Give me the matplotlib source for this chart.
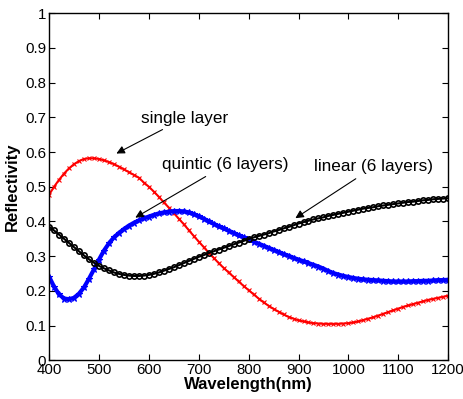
import matplotlib.pyplot as plt
import numpy as np

plt.rcParams['font.family'] = ['Liberation Sans', 'DejaVu Sans']

# wavelength grid (nm), readings every 10 nm
wavelength = list(range(400, 1201, 10))

single_layer = [
    0.477, 0.500, 0.520, 0.538, 0.553, 0.565, 0.574, 0.580, 0.582, 0.582,
    0.580, 0.576, 0.571, 0.565, 0.558, 0.550, 0.542, 0.534, 0.526, 0.512,
    0.500, 0.486, 0.471, 0.455, 0.440, 0.424, 0.408, 0.392, 0.375, 0.358,
    0.342, 0.326, 0.310, 0.295, 0.280, 0.266, 0.253, 0.240, 0.227, 0.214,
    0.202, 0.190, 0.178, 0.167, 0.157, 0.148, 0.140, 0.132, 0.125, 0.120,
    0.115, 0.112, 0.109, 0.107, 0.106, 0.105, 0.105, 0.105, 0.105, 0.106,
    0.107, 0.109, 0.112, 0.116, 0.120, 0.124, 0.129, 0.134, 0.139, 0.144,
    0.149, 0.154, 0.158, 0.162, 0.166, 0.170, 0.174, 0.177, 0.180, 0.183,
    0.186,
]

quintic = [
    0.241, 0.212, 0.190, 0.178, 0.176, 0.180, 0.192, 0.210, 0.235, 0.262,
    0.290, 0.316, 0.337, 0.354, 0.367, 0.378, 0.388, 0.396, 0.403, 0.409,
    0.414, 0.419, 0.423, 0.426, 0.428, 0.430, 0.430, 0.429, 0.426, 0.421,
    0.415, 0.408, 0.400, 0.393, 0.386, 0.380, 0.373, 0.367, 0.360, 0.354,
    0.348, 0.342, 0.336, 0.330, 0.324, 0.318, 0.312, 0.306, 0.301, 0.295,
    0.290, 0.285, 0.280, 0.275, 0.270, 0.264, 0.257, 0.251, 0.247, 0.243,
    0.240, 0.237, 0.235, 0.233, 0.232, 0.231, 0.230, 0.229, 0.228, 0.227,
    0.227, 0.227, 0.227, 0.228, 0.228, 0.229, 0.229, 0.230, 0.231, 0.231,
    0.232,
]

linear = [
    0.385, 0.374, 0.362, 0.350, 0.338, 0.326, 0.314, 0.302, 0.291, 0.281,
    0.272, 0.265, 0.259, 0.253, 0.249, 0.246, 0.244, 0.243, 0.243, 0.244,
    0.246, 0.249, 0.253, 0.258, 0.263, 0.268, 0.274, 0.280, 0.286, 0.292,
    0.298, 0.303, 0.309, 0.314, 0.319, 0.324, 0.329, 0.334, 0.339, 0.344,
    0.349, 0.354, 0.358, 0.362, 0.366, 0.371, 0.375, 0.380, 0.384, 0.389,
    0.394, 0.398, 0.402, 0.406, 0.409, 0.412, 0.416, 0.419, 0.422, 0.425,
    0.428, 0.431, 0.434, 0.437, 0.439, 0.441, 0.444, 0.446, 0.448, 0.450,
    0.452, 0.454, 0.456, 0.457, 0.459, 0.461, 0.462, 0.464, 0.465, 0.466,
    0.467,
]

x_ticks = [400, 500, 600, 700, 800, 900, 1000, 1100, 1200]
y_ticks = [0, 0.1, 0.2, 0.3, 0.4, 0.5, 0.6, 0.7, 0.8, 0.9, 1]
y_tick_labels = ['0', '0.1', '0.2', '0.3', '0.4', '0.5', '0.6', '0.7', '0.8', '0.9', '1']

fig = plt.figure(figsize=(4.63, 3.99), dpi=100)
ax = fig.add_axes([0.106, 0.097, 0.862, 0.870])

ax.plot(wavelength, single_layer, color='red', linewidth=1.5,
        marker='x', markersize=2.5, markeredgewidth=0.8)
ax.plot(wavelength, quintic, color='blue', linewidth=3.0,
        marker='*', markersize=4.5, markeredgewidth=0.8)
ax.plot(wavelength, linear, color='black', linewidth=1.5, linestyle='-',
        marker='o', markersize=3.8, markerfacecolor='none', markeredgewidth=1.2)

arrow = dict(arrowstyle='-|>', color='black', lw=0.8, mutation_scale=12)
ax.annotate('single layer', xy=(530, 0.592), xytext=(672, 0.698),
            ha='center', va='center', fontsize=12.3, arrowprops=arrow)
ax.annotate('quintic (6 layers)', xy=(568, 0.407), xytext=(754, 0.563),
            ha='center', va='center', fontsize=12.3, arrowprops=arrow)
ax.annotate('linear (6 layers)', xy=(889, 0.405), xytext=(1051, 0.557),
            ha='center', va='center', fontsize=12.3, arrowprops=arrow)

ax.set_xlim(400, 1200)
ax.set_ylim(0, 1)
ax.set_xticks(x_ticks)
ax.set_yticks(y_ticks)
ax.set_yticklabels(y_tick_labels)
ax.tick_params(direction='in', top=True, right=True, labelsize=10.8, length=4, pad=2)
for s in ax.spines.values():
    s.set_linewidth(1.0)

ax.set_xlabel('Wavelength(nm)', fontsize=12, fontweight='bold', labelpad=0)
ax.set_ylabel('Reflectivity', fontsize=12, fontweight='bold', labelpad=4)

fig.savefig('out.png', dpi=100)
